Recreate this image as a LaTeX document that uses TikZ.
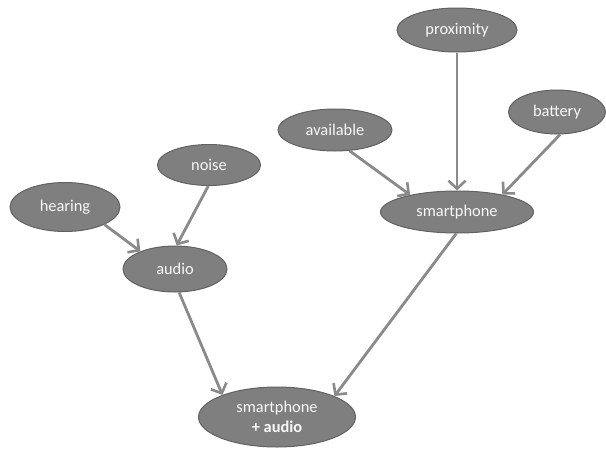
\documentclass[tikz,border=0pt]{standalone}
\usepackage{fontspec}
\setmainfont{Carlito}
\usetikzlibrary{arrows.meta,shapes.geometric}
\definecolor{nodefill}{HTML}{7F7F7F}
\definecolor{nodeedge}{HTML}{616161}
\definecolor{linkgray}{HTML}{8A8A8A}
\tikzset{
  var/.style={ellipse, fill=nodefill, draw=nodeedge, line width=1pt,
    text=white!94!gray, font=\fontsize{16.4}{20}\selectfont, inner sep=0pt,
    minimum width=#1},
  link/.style={draw=linkgray, line width=2.8pt,
    -{Straight Barb[length=8pt,width=17pt,line width=2.6pt]}}
}
\begin{document}
\begin{tikzpicture}[x=1pt,y=-1pt]
  \useasboundingbox (0,0) rectangle (606,450);
  % variables
  \node[var=120pt, minimum height=44pt] (prox) at (457,30) {proximity};
  \node[var=97pt, minimum height=44pt] (batt) at (557,112) {battery};
  \node[var=114pt, minimum height=42pt] (avail) at (335,130) {available};
  \node[var=153pt, minimum height=42pt] (phone) at (457,212) {smartphone};
  \node[var=103pt, minimum height=41pt] (noise) at (209,165) {noise};
  \node[var=110pt, minimum height=49pt] (hear) at (65,207) {hearing};
  \node[var=104pt, minimum height=46pt] (audio) at (175,269) {audio};
  \node[var=157pt, minimum height=60pt, align=center] (both) at (277,417)
    {smartphone\\\textbf{+ audio}};
  % dependencies
  \draw[link] (prox) -- (phone);
  \draw[link] (batt.-82) -- (phone.21);
  \draw[link] (avail.-55) -- (phone.160);
  \draw[link] (noise.-92) -- (audio.86);
  \draw[link] (hear.-24) -- (audio.153);
  \draw[link] (audio.-80) -- (both.158);
  \draw[link] (phone.-92) -- (both.20);
\end{tikzpicture}
\end{document}
